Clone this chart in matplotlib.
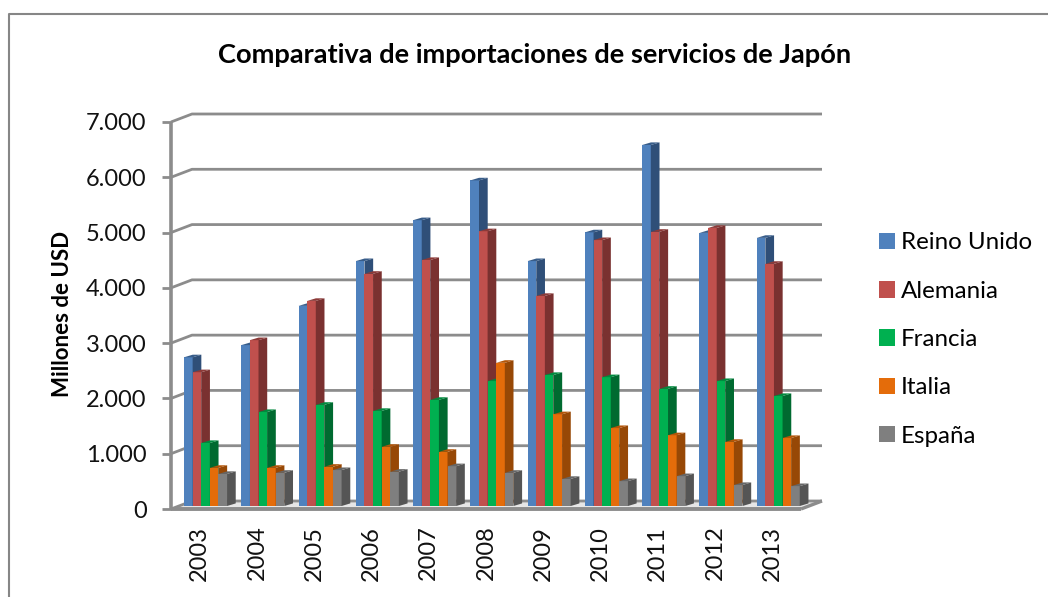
import matplotlib
matplotlib.use('Agg')
import matplotlib.pyplot as plt
from matplotlib.lines import Line2D
from matplotlib.ticker import FuncFormatter
import numpy as np

plt.rcParams['font.family'] = ['Lato', 'DejaVu Sans']

years = ['2003', '2004', '2005', '2006', '2007', '2008', '2009', '2010', '2011', '2012', '2013']
reino_unido = [2690, 2910, 3620, 4430, 5170, 5890, 4430, 4950, 6530, 4940, 4850]
alemania = [2420, 3000, 3710, 4200, 4450, 4970, 3800, 4810, 4960, 5030, 4380]
francia = [1140, 1700, 1830, 1720, 1920, 2260, 2370, 2330, 2120, 2260, 1990]
italia = [690, 690, 710, 1070, 980, 2590, 1660, 1410, 1280, 1160, 1230]
espana = [580, 600, 650, 620, 720, 600, 490, 450, 540, 380, 360]

series = [
    ('Reino Unido', reino_unido, '#4f81bd', '#2f4f78', '#385d8a'),
    ('Alemania', alemania, '#c0504d', '#7a3130', '#8c3a38'),
    ('Francia', francia, '#00b050', '#006a30', '#008a3e'),
    ('Italia', italia, '#e46c0a', '#974806', '#b35508'),
    ('España', espana, '#7f7f7f', '#555555', '#666666'),
]

W, H = 1048, 597
fig = plt.figure(figsize=(W / 100, H / 100), dpi=100)
fig.patch.set_facecolor('white')

# frame of the chart area, only top and left fall inside the picture
fig.add_artist(Line2D([8.5 / W, 8.5 / W, 1], [0, 1 - 13.5 / H, 1 - 13.5 / H], transform=fig.transFigure,
                      color='#868686', lw=1.5))

x0, x1, y0, y1 = 171, 801, 509, 122
ax = fig.add_axes([x0 / W, 1 - y0 / H, (x1 - x0) / W, (y0 - y1) / H])
ax.set_xlim(-0.5, 10.5)
ax.set_ylim(0, 7000)
ax.patch.set_visible(False)
for s in ax.spines.values():
    s.set_visible(False)

px_x = 11 / (x1 - x0)      # one pixel in x data units
px_y = 7000 / (y0 - y1)    # one pixel in y data units

wall_dx, wall_dy = 21 * px_x, 8 * px_y
grid_c = '#8c8c8c'
grid_lw = 2.0


def wall_line(xs, ys, lw=grid_lw):
    ax.plot(xs, ys, color=grid_c, lw=lw, clip_on=False, zorder=1, solid_capstyle='butt')


ticks = np.arange(0, 8000, 1000)
for t in ticks:
    # gridline runs over the side wall and along the back wall
    wall_line([-0.5, -0.5 + wall_dx, 10.5 + wall_dx], [t, t + wall_dy, t + wall_dy])
wall_line([-0.5, -0.5], [0, 7000], lw=2.6)
wall_line([-0.5, 10.5], [0, 0], lw=2.8)
wall_line([10.5, 10.5 + wall_dx], [0, wall_dy], lw=2.4)
ax.fill([-0.5, -0.5 + wall_dx, 10.5 + wall_dx, 10.5], [0, wall_dy, wall_dy, 0],
        color='#e6e6e6', lw=0, zorder=0.5, clip_on=False)

bar_w = 8.6 * px_x
depth_x, depth_y = 8.7 * px_x, 2.6 * px_y
base = 54
shift = 0.103
xpos = np.arange(len(years))

for i, (name, vals, front, side, top) in enumerate(series):
    lefts = xpos + shift - 2.5 * bar_w + i * bar_w
    ax.bar(lefts, vals, bar_w, bottom=base, align='edge', color=front, zorder=3 + i, label=name, clip_on=False)
    for left, v in zip(lefts, vals):
        r = left + bar_w
        t = base + v
        ax.fill([r, r + depth_x, r + depth_x, r],
                [base, base + depth_y, t + depth_y, t], color=side, lw=0, zorder=3 + i, clip_on=False)
        ax.fill([left, left + depth_x, r + depth_x, r],
                [t, t + depth_y, t + depth_y, t], color=top, lw=0, zorder=3 + i, clip_on=False)

ax.set_xticks(xpos)
ax.set_xticklabels(years, rotation=90, fontsize=17, color='#111111')
ax.set_yticks(ticks)
ax.yaxis.set_major_formatter(FuncFormatter(lambda v, p: f'{int(v):,}'.replace(',', '.')))
ax.tick_params(axis='y', length=6.5, width=2, color=grid_c, labelsize=17, pad=11, labelcolor='#111111')
ax.tick_params(axis='x', length=0, pad=12)

ax.set_ylabel('Millones de USD', fontsize=16, fontweight='bold', va='center')
ax.yaxis.set_label_coords((63 - x0) / (x1 - x0), (y0 - 314) / (y0 - y1))

fig.text(534.5 / W, 1 - 55 / H, 'Comparativa de importaciones de servicios de Japón',
         ha='center', va='center', fontsize=19.6, fontweight='bold')

fig.legend(loc='center left', bbox_to_anchor=(879 / W, 1 - 339.5 / H), frameon=False, fontsize=17.4,
           handlelength=0.68, handleheight=0.68, handletextpad=0.22, labelspacing=1.13, borderpad=0, borderaxespad=0)

fig.savefig('out.png', dpi=100)
